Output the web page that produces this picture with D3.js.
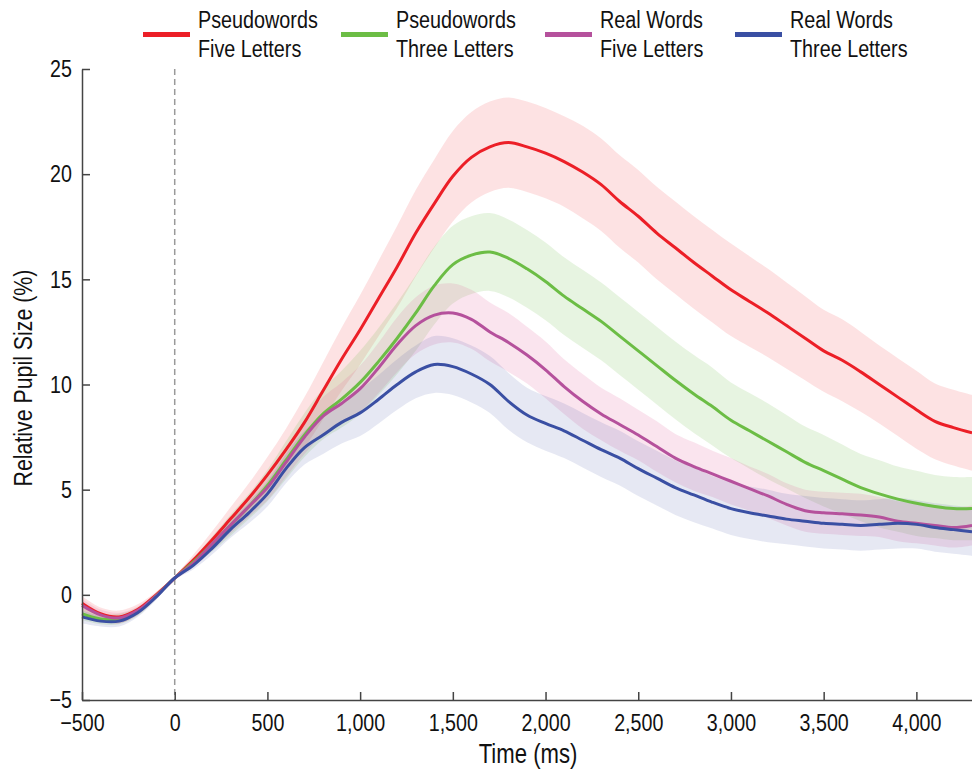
<!DOCTYPE html>
<html>
<head>
<meta charset="utf-8">
<script src="https://cdn.jsdelivr.net/npm/d3@7"></script>
<style>
  body { margin: 0; background: #fff; }
  svg text { font-family: "Liberation Sans", Arial, sans-serif; fill: #111; }
</style>
</head>
<body>
<svg id="chart" width="972" height="770"></svg>
<script>
// time axis (ms), one sample every 100 ms
const times = [-500, -400, -300, -200, -100, 0, 100, 200, 300, 400, 500, 600, 700, 800, 900,
  1000, 1100, 1200, 1300, 1400, 1500, 1600, 1700, 1800, 1900, 2000, 2100, 2200, 2300, 2400,
  2500, 2600, 2700, 2800, 2900, 3000, 3100, 3200, 3300, 3400, 3500, 3600, 3700, 3800, 3900,
  4000, 4100, 4200, 4300];

// mean relative pupil size (%)
const pseudoFive = [-0.4, -0.9, -1.05, -0.7, 0.0, 0.8, 1.65, 2.6, 3.6, 4.6, 5.7, 6.9, 8.2, 9.7, 11.2,
  12.6, 14.1, 15.6, 17.2, 18.6, 19.9, 20.8, 21.3, 21.5, 21.3, 21.0, 20.6, 20.1, 19.5, 18.7,
  18.0, 17.2, 16.5, 15.8, 15.15, 14.5, 13.95, 13.4, 12.8, 12.2, 11.6, 11.15, 10.6, 10.0, 9.4,
  8.8, 8.25, 7.95, 7.7];
const pseudoThree = [-0.9, -1.15, -1.15, -0.8, -0.05, 0.8, 1.55, 2.4, 3.3, 4.2, 5.2, 6.4, 7.6, 8.6, 9.3,
  10.1, 11.1, 12.2, 13.4, 14.7, 15.7, 16.15, 16.3, 16.0, 15.5, 14.9, 14.2, 13.6, 13.0, 12.3,
  11.6, 10.9, 10.2, 9.55, 8.95, 8.3, 7.8, 7.3, 6.8, 6.3, 5.9, 5.5, 5.1, 4.8, 4.55,
  4.35, 4.2, 4.1, 4.1];
const realFive = [-0.5, -0.95, -1.1, -0.75, -0.05, 0.8, 1.5, 2.4, 3.3, 4.2, 5.1, 6.3, 7.5, 8.5, 9.1,
  9.8, 10.8, 11.9, 12.8, 13.3, 13.4, 13.1, 12.5, 12.0, 11.4, 10.7, 9.9, 9.2, 8.6, 8.1,
  7.6, 7.05, 6.5, 6.1, 5.75, 5.4, 5.05, 4.7, 4.3, 4.0, 3.9, 3.85, 3.8, 3.7, 3.5,
  3.4, 3.3, 3.2, 3.3];
const realThree = [-1.05, -1.25, -1.25, -0.85, -0.1, 0.8, 1.4, 2.2, 3.1, 3.9, 4.8, 6.0, 7.0, 7.6, 8.2,
  8.65, 9.3, 10.0, 10.6, 10.95, 10.85, 10.5, 10.0, 9.2, 8.55, 8.15, 7.8, 7.35, 6.9, 6.5,
  6.0, 5.55, 5.1, 4.75, 4.4, 4.1, 3.9, 3.75, 3.6, 3.5, 3.4, 3.35, 3.3, 3.35, 3.4,
  3.35, 3.2, 3.1, 3.0];

// half-width of the shaded error band
const pseudoFiveErr = [0.35, 0.3, 0.3, 0.25, 0.15, 0.1, 0.25, 0.4, 0.55, 0.7, 0.85, 1.0, 1.2, 1.35, 1.5,
  1.65, 1.8, 1.95, 2.05, 2.1, 2.15, 2.15, 2.15, 2.15, 2.15, 2.15, 2.15, 2.2, 2.2, 2.2,
  2.2, 2.2, 2.2, 2.2, 2.2, 2.2, 2.15, 2.1, 2.05, 2.0, 1.95, 1.95, 1.9, 1.85, 1.85,
  1.85, 1.8, 1.8, 1.8];
const pseudoThreeErr = [0.3, 0.25, 0.25, 0.2, 0.15, 0.1, 0.2, 0.35, 0.5, 0.6, 0.75, 0.9, 1.05, 1.2, 1.35,
  1.5, 1.6, 1.7, 1.8, 1.85, 1.85, 1.85, 1.85, 1.85, 1.85, 1.85, 1.85, 1.85, 1.85, 1.85,
  1.85, 1.85, 1.85, 1.85, 1.85, 1.8, 1.8, 1.8, 1.75, 1.7, 1.7, 1.65, 1.6, 1.6, 1.55,
  1.55, 1.5, 1.5, 1.5];
const realFiveErr = [0.3, 0.25, 0.25, 0.2, 0.15, 0.1, 0.2, 0.3, 0.4, 0.5, 0.6, 0.7, 0.8, 0.9, 1.0,
  1.1, 1.2, 1.3, 1.35, 1.4, 1.4, 1.4, 1.4, 1.4, 1.35, 1.35, 1.3, 1.3, 1.25, 1.25,
  1.2, 1.2, 1.15, 1.15, 1.1, 1.1, 1.05, 1.05, 1.0, 1.0, 1.0, 1.0, 1.0, 0.95, 0.95,
  0.95, 0.95, 0.95, 0.95];
const realThreeErr = [0.3, 0.25, 0.25, 0.2, 0.15, 0.1, 0.2, 0.3, 0.4, 0.5, 0.6, 0.7, 0.8, 0.9, 1.0,
  1.1, 1.15, 1.2, 1.25, 1.35, 1.35, 1.35, 1.35, 1.35, 1.3, 1.3, 1.3, 1.3, 1.3, 1.3,
  1.3, 1.3, 1.3, 1.3, 1.25, 1.25, 1.25, 1.25, 1.2, 1.2, 1.2, 1.2, 1.2, 1.2, 1.2,
  1.15, 1.15, 1.15, 1.15];

const seriesNames = [["Pseudowords", "Five Letters"], ["Pseudowords", "Three Letters"],
  ["Real Words", "Five Letters"], ["Real Words", "Three Letters"]];
const lineColors = ["#ec1f27", "#6cbd45", "#b5519c", "#3a4fa3"];
const bandColors = ["#ec1f27", "#6cbd45", "#e0609a", "#3a4fa3"];
const bandOpacity = [0.13, 0.16, 0.17, 0.13];

const xTicks = [-500, 0, 500, 1000, 1500, 2000, 2500, 3000, 3500, 4000];
const yTicks = [-5, 0, 5, 10, 15, 20, 25];

const means = [pseudoFive, pseudoThree, realFive, realThree];
const errs = [pseudoFiveErr, pseudoThreeErr, realFiveErr, realThreeErr];

// the original typeface is condensed, squeeze the regular face
var squeeze = 0.82;
var legendSqueeze = 0.86;

var svg = d3.select("#chart");

var x = d3.scaleLinear().domain([-500, 4300]).range([82, 972]);
var y = d3.scaleLinear().domain([-5, 25]).range([700, 69]);

var series = means.map(function(m, i) {
  return times.map(function(t, j) {
    return { t: t, v: m[j], e: errs[i][j] };
  });
});

var curve = d3.curveCatmullRom.alpha(0.5);

var area = d3.area()
  .x(function(d) { return x(d.t); })
  .y0(function(d) { return y(d.v - d.e); })
  .y1(function(d) { return y(d.v + d.e); })
  .curve(curve);

var line = d3.line()
  .x(function(d) { return x(d.t); })
  .y(function(d) { return y(d.v); })
  .curve(curve);

//error bands
svg.append("g").selectAll("path")
  .data(series)
  .enter()
  .append("path")
  .attr("d", area)
  .attr("fill", function(d, i) { return bandColors[i]; })
  .attr("fill-opacity", function(d, i) { return bandOpacity[i]; })
  .attr("stroke", "none");

//stimulus onset marker
svg.append("line")
  .attr("x1", x(0)).attr("x2", x(0))
  .attr("y1", y(25)).attr("y2", y(-5))
  .attr("stroke", "#9a9a9a")
  .attr("stroke-width", 1.5)
  .attr("stroke-dasharray", "6,4");

//mean lines
svg.append("g").selectAll("path")
  .data(series)
  .enter()
  .append("path")
  .attr("d", line)
  .attr("fill", "none")
  .attr("stroke", function(d, i) { return lineColors[i]; })
  .attr("stroke-width", 3);

//axes
var fmt = d3.format(",");

var xAxis = svg.append("g")
  .attr("transform", "translate(0,700)")
  .call(d3.axisBottom(x).tickValues(xTicks).tickFormat(fmt).tickSizeInner(-8).tickSizeOuter(0).tickPadding(14));

var yAxis = svg.append("g")
  .attr("transform", "translate(82,0)")
  .call(d3.axisLeft(y).tickValues(yTicks).tickFormat(fmt).tickSizeInner(-8).tickSizeOuter(0).tickPadding(10));

[xAxis, yAxis].forEach(function(g) {
  g.select(".domain").attr("stroke", "#444").attr("stroke-width", 1.5);
  g.selectAll(".tick line").attr("stroke", "#444").attr("stroke-width", 1.5);
  g.selectAll(".tick text")
    .attr("font-size", 24)
    .attr("fill", "#111")
    .style("font-family", "'Liberation Sans', Arial, sans-serif")
    .attr("transform", "scale(" + squeeze + ",1)");
});
yAxis.selectAll(".tick text").attr("x", -10 / squeeze);

svg.append("text")
  .attr("transform", "translate(528,763) scale(" + squeeze + ",1)")
  .attr("text-anchor", "middle")
  .attr("font-size", 27)
  .text("Time (ms)");

svg.append("text")
  .attr("transform", "translate(32,378) rotate(-90) scale(" + squeeze + ",1)")
  .attr("text-anchor", "middle")
  .attr("font-size", 26)
  .text("Relative Pupil Size (%)");

//legend
var legendX = [143, 341, 545, 735];
var legend = svg.append("g").selectAll("g")
  .data(seriesNames)
  .enter()
  .append("g")
  .attr("transform", function(d, i) { return "translate(" + legendX[i] + ",0)"; });

legend.append("line")
  .attr("x1", 0).attr("x2", 47)
  .attr("y1", 34.5).attr("y2", 34.5)
  .attr("stroke", function(d, i) { return lineColors[i]; })
  .attr("stroke-width", 5);

legend.append("text")
  .attr("transform", "translate(55,28) scale(" + legendSqueeze + ",1)")
  .attr("font-size", 23)
  .text(function(d) { return d[0]; });

legend.append("text")
  .attr("transform", "translate(55,57) scale(" + legendSqueeze + ",1)")
  .attr("font-size", 23)
  .text(function(d) { return d[1]; });
</script>
</body>
</html>
